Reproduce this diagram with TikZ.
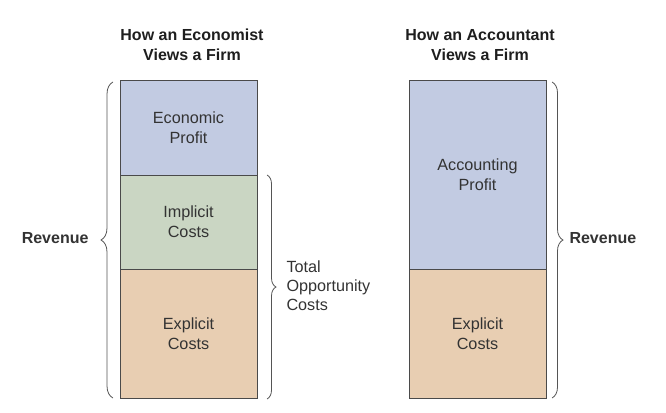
\documentclass[tikz,border=0pt]{standalone}
\usepackage{fontspec}
\setmainfont{Liberation Sans}
\usetikzlibrary{decorations.pathreplacing}
\definecolor{profitblue}{HTML}{C2CBE2}
\definecolor{implicitgreen}{HTML}{CAD6C3}
\definecolor{explicitorange}{HTML}{E8CEB2}
\definecolor{barline}{HTML}{4A4A4A}
\definecolor{bracegray}{HTML}{555555}
\definecolor{labelgray}{HTML}{333333}
\definecolor{titleblack}{HTML}{1E1E1E}
\begin{document}
\begin{tikzpicture}[x=1pt,y=-1pt,
    block/.style={rectangle, draw=barline, line width=0.8pt, minimum width=137pt, inner sep=0pt, outer sep=0pt, anchor=north west, align=center, text=labelgray, font=\fontsize{16.2}{20}\selectfont},
    heading/.style={align=center, text=titleblack, font=\fontsize{16}{19.5}\selectfont\bfseries},
    sidelabel/.style={text=labelgray, font=\fontsize{16.2}{19}\selectfont},
    bracket/.style={decorate, decoration={brace, amplitude=#1}, draw=bracegray, line width=0.8pt}]
    \useasboundingbox (0,0) rectangle (666,412);
    % titles
    \node[heading] (econtitle) at (192,45) {How an Economist\\Views a Firm};
    \node[heading] (acctitle) at (480,45) {How an Accountant\\Views a Firm};
    % economist bar
    \node[block, fill=profitblue, minimum height=95pt] (econprofit) at (120,80) {Economic\\Profit};
    \node[block, fill=implicitgreen, minimum height=94pt] (implicit) at (econprofit.south west) {Implicit\\Costs};
    \node[block, fill=explicitorange, minimum height=129pt] (explicitL) at (implicit.south west) {Explicit\\Costs};
    % accountant bar
    \node[block, fill=profitblue, minimum height=189pt] (accprofit) at (409,80) {Accounting\\Profit};
    \node[block, fill=explicitorange, minimum height=129pt] (explicitR) at (accprofit.south west) {Explicit\\Costs};
    % braces
    \draw[bracket=12] ([xshift=-7pt,yshift=0pt]explicitL.south west) -- ([xshift=-7pt,yshift=-2pt]econprofit.north west);
    \draw[bracket=9] ([xshift=10pt]implicit.north east) -- ([xshift=10pt,yshift=-1pt]explicitL.south east);
    \draw[bracket=11] ([xshift=6pt,yshift=-2pt]accprofit.north east) -- ([xshift=6pt]explicitR.south east);
    % labels
    \node[sidelabel, anchor=east, font=\fontsize{16}{19}\selectfont\bfseries] (revenueL) at (92,238) {Revenue};
    \node[sidelabel, anchor=west, align=left] (opportunity) at (283,286) {Total\\Opportunity\\Costs};
    \node[sidelabel, anchor=west, font=\fontsize{16}{19}\selectfont\bfseries] (revenueR) at (566,238) {Revenue};
\end{tikzpicture}
\end{document}
